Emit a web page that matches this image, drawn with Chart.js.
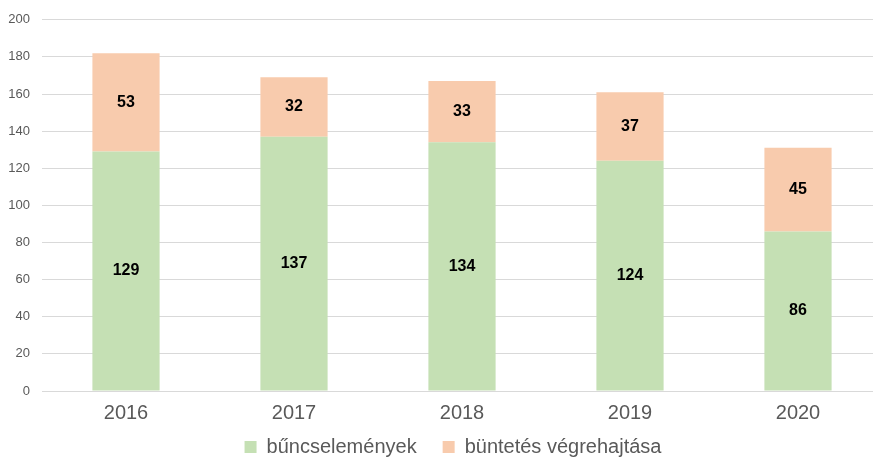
<!DOCTYPE html>
<html>
<head>
<meta charset="utf-8">
<script src="https://cdn.jsdelivr.net/npm/chart.js@4/dist/chart.umd.min.js"></script>
<style>
  html, body { margin: 0; padding: 0; background: #fff; overflow: hidden; }
  #wrap { width: 882px; height: 461px; }
</style>
</head>
<body>
<div id="wrap"><canvas id="myChart"></canvas></div>
<script>
const years = ["2016", "2017", "2018", "2019", "2020"];
const buncselemenyek = [129, 137, 134, 124, 86];
const buntetesVegrehajtasa = [53, 32, 33, 37, 45];
const yTicks = [0, 20, 40, 60, 80, 100, 120, 140, 160, 180, 200];

const FONT = "'Liberation Sans', Arial, sans-serif";

// draws the value in the middle of every bar segment
const segmentLabels = {
  id: "segmentLabels",
  afterDatasetsDraw(chart) {
    const ctx = chart.ctx;
    ctx.save();
    ctx.font = "bold 16px " + FONT;
    ctx.fillStyle = "#000";
    ctx.textAlign = "center";
    ctx.textBaseline = "middle";
    chart.data.datasets.forEach((ds, i) => {
      chart.getDatasetMeta(i).data.forEach((bar, j) => {
        const mid = (bar.y + bar.base) / 2;
        ctx.fillText(ds.data[j], bar.x, mid);
      });
    });
    ctx.restore();
  },
};

// legend needs wide gaps between items but only a short box,
// so cap its height and move it into place after layout
const legendFit = {
  id: "legendFit",
  beforeLayout(chart) {
    const lg = chart.legend;
    if (lg && !lg._capped) {
      const orig = lg.fit;
      lg.fit = function () {
        orig.call(this);
        this.height = 26;
      };
      lg._capped = true;
    }
  },
  afterLayout(chart) {
    const lg = chart.legend;
    lg.top = 447 - 36;
    lg.bottom = chart.height;
    lg.left += 12;
    lg.right += 12;
  },
};

new Chart(document.getElementById("myChart"), {
  type: "bar",
  data: {
    labels: years,
    datasets: [
      {
        label: "bűncselemények",
        data: buncselemenyek,
        backgroundColor: "#c5e0b4",
        barPercentage: 0.8,
        categoryPercentage: 0.5,
      },
      {
        label: "büntetés végrehajtása",
        data: buntetesVegrehajtasa,
        backgroundColor: "#f8cbad",
        barPercentage: 0.8,
        categoryPercentage: 0.5,
      },
    ],
  },
  options: {
    responsive: true,
    maintainAspectRatio: false,
    animation: false,
    layout: { padding: { top: 19, left: 0, right: 0, bottom: 0 } },
    plugins: {
      tooltip: { enabled: false },
      legend: {
        position: "bottom",
        labels: {
          boxWidth: 12,
          boxHeight: 12,
          padding: 26,
          color: "#595959",
          font: { family: FONT, size: 20 },
        },
      },
    },
    scales: {
      x: {
        stacked: true,
        grid: { display: false, drawTicks: false },
        border: { display: false },
        ticks: {
          color: "#595959",
          padding: 10,
          font: { family: FONT, size: 20 },
        },
      },
      y: {
        stacked: true,
        min: 0,
        max: 200,
        afterBuildTicks: (axis) => {
          axis.ticks = yTicks.map((v) => ({ value: v }));
        },
        afterFit: (axis) => {
          axis.width = 42;
        },
        grid: { color: "#d9d9d9", drawTicks: false, lineWidth: 1 },
        border: { display: false },
        ticks: {
          color: "#595959",
          padding: 12,
          font: { family: FONT, size: 13 },
        },
      },
    },
  },
  plugins: [segmentLabels, legendFit],
});
</script>
</body>
</html>
